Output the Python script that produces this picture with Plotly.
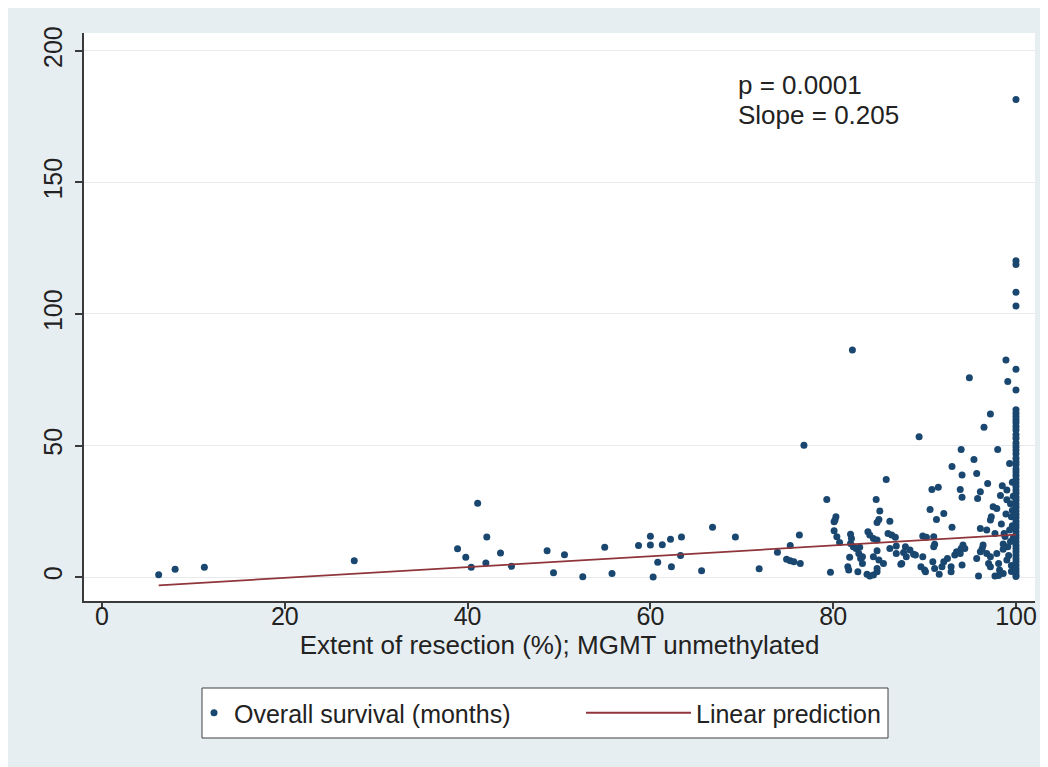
import plotly.graph_objects as go

# ---- data ----
low_extent = [6.2, 8.0, 11.2, 27.6, 38.9, 39.8, 40.4, 41.1, 42.1, 42.0,
              43.6, 44.8, 48.7, 49.4, 50.6, 52.6, 55.0, 55.8, 58.7, 60.0,
              60.0, 61.3, 60.8, 62.2, 63.4, 62.3, 63.3, 60.3, 65.6, 66.8,
              69.3, 71.9, 73.9, 74.9, 75.3, 75.7, 76.4, 75.3, 76.3, 76.8]
low_survival = [0.9, 3.0, 3.7, 6.2, 10.8, 7.5, 3.7, 28.1, 15.2, 5.3,
                9.1, 4.1, 10.0, 1.6, 8.5, 0.1, 11.3, 1.4, 12.0, 15.5,
                12.2, 12.3, 5.6, 14.4, 15.2, 3.9, 8.2, 0.0, 2.4, 18.9,
                15.2, 3.2, 9.4, 6.8, 6.2, 5.8, 5.2, 12.0, 16.0, 50.1]

high_extent = [79.7, 79.3, 80.3, 80.2, 80.1, 80.1, 80.4, 80.7, 82.1, 81.9,
               82.0, 81.9, 82.2, 82.5, 82.9, 82.8, 83.2, 81.8, 81.6, 81.7,
               82.7, 83.8, 84.0, 84.4, 84.8, 83.2, 83.0, 83.7, 84.0, 84.4,
               84.8, 84.4, 84.8, 85.0, 85.5, 84.8, 84.7, 85.1, 85.0, 84.8,
               85.8, 86.0, 86.4, 86.8, 86.2, 86.9, 87.4, 86.9, 87.9, 88.0,
               86.2, 88.4, 88.8, 89.0, 87.5, 87.7, 89.4, 89.8, 90.2, 89.8,
               89.6, 90.0, 90.1, 91.0, 91.1, 91.0, 90.8, 91.5, 90.6, 92.1,
               91.3, 90.9, 91.1, 91.6, 91.9, 92.1, 92.5, 93.0, 93.0, 92.9,
               92.9, 93.3, 93.5, 93.9, 94.0, 94.2, 94.1, 94.4, 94.0, 94.1,
               93.9, 94.1, 94.9, 95.4, 95.7, 96.1, 95.8, 96.9, 96.5, 97.2,
               98.0, 98.9, 99.1, 95.9, 95.7, 96.1, 96.3, 96.4, 96.8, 97.0,
               97.2, 97.2, 96.1, 96.8, 97.2, 97.3, 97.5, 97.9, 97.7, 98.5,
               99.0, 99.3, 97.9, 98.1, 98.2, 97.7, 98.1, 98.6, 98.7, 98.8,
               99.1, 99.3, 99.5, 99.0, 99.4, 98.4, 98.9, 99.2, 99.5, 99.4,
               99.6, 98.6, 99.7, 99.6, 98.3, 99.0, 98.6, 99.5, 99.6, 99.7]
high_survival = [1.8, 29.5, 22.9, 21.7, 21.0, 17.6, 15.3, 13.1, 86.3, 16.3,
                 14.7, 12.8, 11.5, 10.9, 11.3, 9.0, 7.7, 7.5, 3.9, 2.7,
                 2.0, 17.2, 16.0, 14.7, 14.1, 5.2, 7.1, 1.1, 0.4, 0.8,
                 2.0, 7.7, 10.0, 6.5, 5.2, 3.3, 29.5, 25.1, 21.9, 20.7,
                 37.1, 16.6, 16.0, 15.1, 10.9, 11.8, 4.9, 9.0, 11.5, 7.7,
                 21.2, 10.3, 8.7, 8.4, 5.2, 9.3, 53.3, 15.6, 15.1, 7.7,
                 3.9, 2.7, 2.0, 15.3, 12.5, 11.5, 33.3, 34.1, 25.7, 24.2,
                 21.9, 5.8, 3.3, 1.1, 3.9, 5.8, 7.1, 42.0, 18.9, 3.9,
                 2.0, 8.4, 9.6, 9.0, 10.9, 12.2, 4.6, 10.9, 48.5, 38.8,
                 33.3, 30.3, 75.8, 44.7, 39.4, 32.4, 29.9, 35.6, 56.9, 62.0,
                 48.5, 82.5, 74.3, 0.4, 7.1, 9.6, 10.9, 12.2, 9.0, 5.2,
                 7.7, 3.9, 18.5, 17.9, 21.7, 22.9, 26.7, 26.1, 16.6, 34.7,
                 33.1, 43.2, 9.0, 5.2, 2.7, 0.4, 0.6, 1.4, 16.6, 15.4,
                 11.5, 17.9, 22.9, 29.4, 27.9, 20.2, 24.0, 8.2, 4.4, 13.5,
                 19.5, 12.6, 30.7, 36.0, 31.0, 6.5, 10.6, 2.1, 25.3, 14.8]

full_extent = [100.0, 100.0, 100.0, 100.0, 100.0, 100.0, 100.0, 100.0,
               100.0, 100.0, 100.0, 100.0, 100.0, 100.0, 100.0, 100.0,
               100.0, 100.0, 100.0, 100.0, 100.0, 100.0, 100.0, 100.0,
               100.0, 100.0, 100.0, 100.0, 100.0, 100.0, 100.0, 100.0,
               100.0, 100.0, 100.0, 100.0, 100.0, 100.0, 100.0, 100.0,
               100.0, 100.0, 100.0, 100.0, 100.0, 100.0, 100.0, 100.0,
               100.0, 100.0, 100.0, 100.0, 100.0, 100.0, 100.0, 100.0]
full_survival = [181.5, 120.2, 118.8, 108.3, 103.0, 79.0, 71.1, 63.6,
                 62.3, 61.0, 59.8, 58.7, 57.2, 55.9, 54.1, 52.8,
                 51.0, 49.6, 48.3, 46.9, 45.2, 43.8, 42.7, 41.1,
                 39.9, 38.6, 37.2, 35.8, 34.5, 33.1, 31.9, 30.4,
                 29.2, 27.8, 26.5, 25.1, 23.9, 22.6, 21.2, 19.9,
                 18.7, 17.3, 16.0, 14.8, 13.4, 12.1, 10.9, 9.6,
                 8.3, 7.0, 5.8, 4.5, 3.2, 2.0, 0.9, 0.2]

fit_slope = 0.205
fit_intercept = -4.4
p_text = "p = 0.0001"
slope_text = "Slope = 0.205"
x_ticks = [0, 20, 40, 60, 80, 100]
y_ticks = [0, 50, 100, 150, 200]

extent = low_extent + high_extent + full_extent
survival = low_survival + high_survival + full_survival
fit_x = sorted(set(extent))
fit_y = [fit_intercept + fit_slope * v for v in fit_x]

# ---- figure ----
W, H = 1040, 759
L, R, T, B = 76, 13, 25, 166
pw, ph = W - L - R, H - T - B

def px(xp):
    return (xp - L) / pw

def py(yp):
    return (H - B - yp) / ph

NAVY = "#1a476f"
MAROON = "#90353b"
TXT = "#222222"
AX = "#3a3a3a"
BG = "#e7eef1"
FONT = "Liberation Sans, Arial, sans-serif"

fig = go.Figure()
fig.add_trace(go.Scatter(x=extent, y=survival, mode="markers",
                         name="Overall survival (months)", legend="legend",
                         marker=dict(color=NAVY, size=7, line=dict(width=0))))
fig.add_trace(go.Scatter(x=fit_x, y=fit_y, mode="lines",
                         name="Linear prediction", legend="legend2",
                         line=dict(color=MAROON, width=1.8)))

legend_common = dict(orientation="h", yanchor="middle", y=py(705),
                     xanchor="left", bgcolor="rgba(0,0,0,0)", borderwidth=0,
                     font=dict(size=25, color=TXT))

fig.update_layout(
    width=W, height=H,
    margin=dict(l=L, r=R, t=T, b=B, pad=0),
    paper_bgcolor=BG,
    plot_bgcolor="white",
    font=dict(family=FONT, size=25, color=TXT),
    showlegend=True,
    legend=dict(x=px(186), itemwidth=30, **legend_common),
    legend2=dict(x=px(573), itemwidth=105, **legend_common),
    shapes=[
        dict(type="rect", xref="paper", yref="paper", layer="above",
             x0=px(194), x1=px(880), y0=py(730), y1=py(680),
             fillcolor="white", line=dict(color="#404040", width=1)),
    ],
    annotations=[
        dict(text=p_text, xref="paper", yref="paper", x=px(728), y=py(77),
             xanchor="left", yanchor="middle", showarrow=False,
             font=dict(size=26, color=TXT)),
        dict(text=slope_text, xref="paper", yref="paper", x=px(728), y=py(107),
             xanchor="left", yanchor="middle", showarrow=False,
             font=dict(size=26, color=TXT)),
    ],
)

fig.update_xaxes(
    range=[-1.97, 102.08], tickvals=x_ticks, ticktext=[str(t) for t in x_ticks],
    showgrid=False, zeroline=False,
    showline=True, linecolor=AX, linewidth=1.5,
    ticks="outside", ticklen=6, tickwidth=1.5, tickcolor=AX,
    tickfont=dict(size=25, color=TXT), ticklabelstandoff=-14,
    title=dict(text="Extent of resection (%); MGMT unmethylated",
               font=dict(size=26, color=TXT), standoff=0),
)
fig.update_yaxes(
    range=[-9.1, 206.8], tickvals=y_ticks, ticktext=[str(t) for t in y_ticks],
    showgrid=True, gridcolor="#e6eaec", gridwidth=1, zeroline=False,
    showline=True, linecolor=AX, linewidth=1.5,
    ticks="outside", ticklen=7, tickwidth=1.5, tickcolor=AX,
    tickangle=-90, tickfont=dict(size=25, color=TXT),
    ticklabelstandoff=3,
)

fig.write_html("out.html")
